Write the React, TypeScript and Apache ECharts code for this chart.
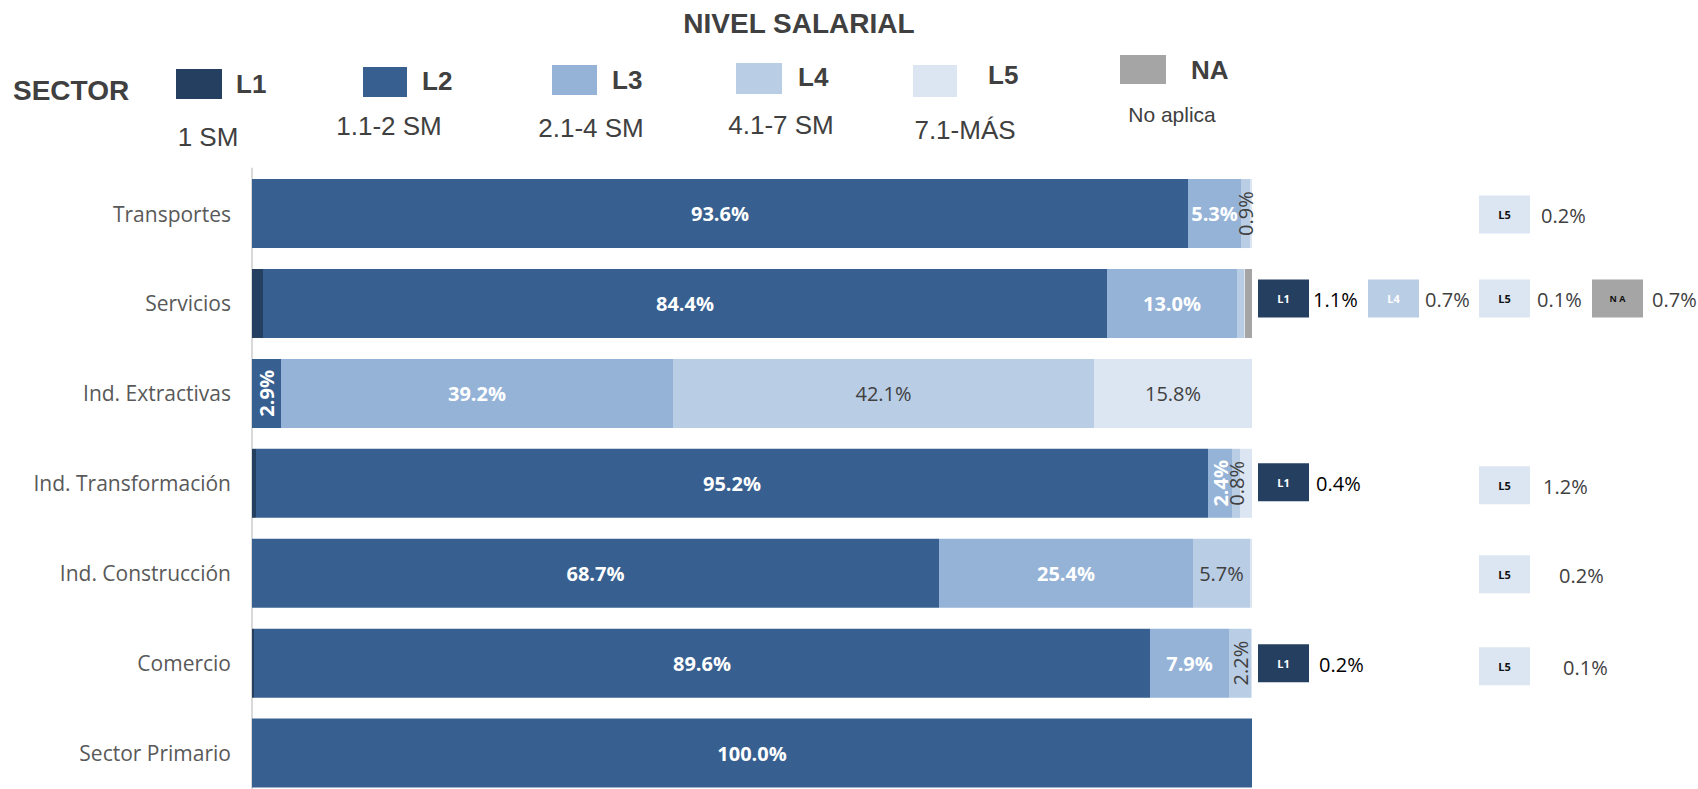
import React, { useEffect, useRef } from 'react';
import * as echarts from 'echarts';

// ---------------- DATA ----------------
const categories = [
  'Transportes',
  'Servicios',
  'Ind. Extractivas',
  'Ind. Transformación',
  'Ind. Construcción',
  'Comercio',
  'Sector Primario',
];
const levels = ['L1', 'L2', 'L3', 'L4', 'L5', 'NA'];
const levelRanges = ['1 SM', '1.1-2 SM', '2.1-4 SM', '4.1-7 SM', '7.1-MÁS', 'No aplica'];
const valuesL1 = [0, 1.1, 0, 0.4, 0, 0.2, 0];
const valuesL2 = [93.6, 84.4, 2.9, 95.2, 68.7, 89.6, 100.0];
const valuesL3 = [5.3, 13.0, 39.2, 2.4, 25.4, 7.9, 0];
const valuesL4 = [0.9, 0.7, 42.1, 0.8, 5.7, 2.2, 0];
const valuesL5 = [0.2, 0.1, 15.8, 1.2, 0.2, 0.1, 0];
const valuesNA = [0, 0.7, 0, 0, 0, 0, 0];
const seriesValues = [valuesL1, valuesL2, valuesL3, valuesL4, valuesL5, valuesNA];

// small values shown as call-outs right of the bars
const callouts = [
  { category: 'Transportes', level: 'L5' },
  { category: 'Servicios', level: 'L1' },
  { category: 'Servicios', level: 'L4' },
  { category: 'Servicios', level: 'L5' },
  { category: 'Servicios', level: 'NA' },
  { category: 'Ind. Transformación', level: 'L1' },
  { category: 'Ind. Transformación', level: 'L5' },
  { category: 'Ind. Construcción', level: 'L5' },
  { category: 'Comercio', level: 'L1' },
  { category: 'Comercio', level: 'L5' },
];

// ---------------- STYLE / LAYOUT ----------------
const levelColors = ['#253F61', '#376091', '#95B3D7', '#B9CDE5', '#DCE6F2', '#A5A5A5'];
const segLabelColor = ['#FFFFFF', '#FFFFFF', '#FFFFFF', '#404040', '#404040', '#404040'];
const segLabelWeight = ['bold', 'bold', 'bold', 'normal', 'normal', 'normal'];
const calloutBoxText = { L1: '#FFFFFF', L4: '#FFFFFF', L5: '#111111', NA: '#111111' } as Record<string, string>;
const calloutValueColor = { L1: '#000000', L4: '#404040', L5: '#404040', NA: '#404040' } as Record<string, string>;
const calloutColumnX = { L1: 1258, L4: 1368, L5: 1479, NA: 1592 } as Record<string, number>;
const calloutTextGap = [11, 4, 6, 7, 9, 7, 13, 29, 10, 33];
const calloutDy = [1, -5, -5, -5, -5, -1, 2, 1, 0, 3];

const legendLayout = [
  { sq: [176, 69, 46, 30], label: [236, 84], range: [208, 137], rangeSize: 26 },
  { sq: [363, 67, 44, 30], label: [422, 81], range: [389, 126], rangeSize: 26 },
  { sq: [552, 65, 45, 30], label: [612, 80], range: [591, 128], rangeSize: 26 },
  { sq: [736, 63, 46, 31], label: [798, 77], range: [781, 125], rangeSize: 26 },
  { sq: [913, 65, 44, 32], label: [988, 75], range: [965, 130], rangeSize: 26 },
  { sq: [1120, 55, 46, 29], label: [1191, 70], range: [1172, 114], rangeSize: 21 },
];

const LEGEND_FONT = '"Liberation Sans", Arial, sans-serif';
const BODY_FONT = '"Open Sans", "Noto Sans", sans-serif';

const fmt = (v: number) => v.toFixed(1) + '%';

export default function App() {
  const ref = useRef<HTMLDivElement>(null);

  useEffect(() => {
    if (!ref.current) return;
    const chart = echarts.init(ref.current, undefined, { renderer: 'svg' });

    const isCallout = (cat: string, lvl: string) =>
      callouts.some((c) => c.category === cat && c.level === lvl);

    const series = levels.map((lvl, li) => ({
      type: 'bar',
      name: lvl,
      stack: 'total',
      barWidth: 69,
      itemStyle: { color: levelColors[li] },
      data: seriesValues[li].map((v, ci) => {
        const show = v > 0 && !isCallout(categories[ci], lvl);
        const rotated = v < 5;
        return {
          value: v,
          label: {
            show,
            position: 'inside',
            rotate: rotated ? 90 : 0,
            formatter: () => fmt(v),
            color: segLabelColor[li],
            fontWeight: segLabelWeight[li],
            fontSize: 20,
            fontFamily: BODY_FONT,
          },
        };
      }),
    }));

    chart.setOption({
      animation: false,
      backgroundColor: '#FFFFFF',
      grid: { left: 252, right: 446, top: 168.6, bottom: 0, containLabel: false },
      xAxis: { type: 'value', min: 0, max: 100, show: false },
      yAxis: {
        type: 'category',
        data: categories,
        inverse: true,
        axisTick: { show: false },
        axisLine: { show: true, lineStyle: { color: '#D9D9D9', width: 2 } },
        axisLabel: { color: '#595959', fontSize: 21, fontFamily: BODY_FONT, margin: 21 },
        splitLine: { show: false },
      },
      series,
    });

    const graphics: any[] = [];
    graphics.push({
      type: 'text',
      x: 799,
      y: 23,
      style: {
        text: 'NIVEL SALARIAL',
        fill: '#404040',
        font: `bold 28px ${LEGEND_FONT}`,
        align: 'center',
        verticalAlign: 'middle',
      },
    });
    graphics.push({
      type: 'text',
      x: 13,
      y: 90,
      style: {
        text: 'SECTOR',
        fill: '#404040',
        font: `bold 28px ${LEGEND_FONT}`,
        align: 'left',
        verticalAlign: 'middle',
      },
    });
    levels.forEach((lvl, li) => {
      const L = legendLayout[li];
      graphics.push({
        type: 'rect',
        shape: { x: L.sq[0], y: L.sq[1], width: L.sq[2], height: L.sq[3] },
        style: { fill: levelColors[li] },
      });
      graphics.push({
        type: 'text',
        x: L.label[0],
        y: L.label[1],
        style: {
          text: lvl,
          fill: '#404040',
          font: `bold 26px ${LEGEND_FONT}`,
          align: 'left',
          verticalAlign: 'middle',
        },
      });
      graphics.push({
        type: 'text',
        x: L.range[0],
        y: L.range[1],
        style: {
          text: levelRanges[li],
          fill: '#404040',
          font: `${L.rangeSize}px ${LEGEND_FONT}`,
          align: 'center',
          verticalAlign: 'middle',
        },
      });
    });

    callouts.forEach((c, i) => {
      const ci = categories.indexOf(c.category);
      const li = levels.indexOf(c.level);
      const v = seriesValues[li][ci];
      const cy = (chart.convertToPixel({ yAxisIndex: 0 }, c.category) as number) + calloutDy[i];
      const bx = calloutColumnX[c.level];
      const bw = 51;
      const bh = 38;
      graphics.push({
        type: 'rect',
        shape: { x: bx, y: cy - bh / 2, width: bw, height: bh },
        style: { fill: levelColors[li] },
      });
      graphics.push({
        type: 'text',
        x: bx + bw / 2,
        y: cy,
        style: {
          text: c.level === 'NA' ? 'N A' : c.level,
          fill: calloutBoxText[c.level],
          font: `bold ${c.level === 'NA' ? 9 : 11}px ${BODY_FONT}`,
          align: 'center',
          verticalAlign: 'middle',
        },
      });
      graphics.push({
        type: 'text',
        x: bx + bw + calloutTextGap[i],
        y: cy + 1,
        style: {
          text: fmt(v),
          fill: calloutValueColor[c.level],
          font: `20px ${BODY_FONT}`,
          align: 'left',
          verticalAlign: 'middle',
        },
      });
    });

    chart.setOption({ graphic: graphics });

    return () => chart.dispose();
  }, []);

  return (
    <div
      style={{
        position: 'absolute',
        left: 0,
        top: 0,
        width: 1698,
        height: 789,
        overflow: 'hidden',
        background: '#FFFFFF',
      }}
    >
      <div ref={ref} style={{ width: 1698, height: 798 }} />
    </div>
  );
}
